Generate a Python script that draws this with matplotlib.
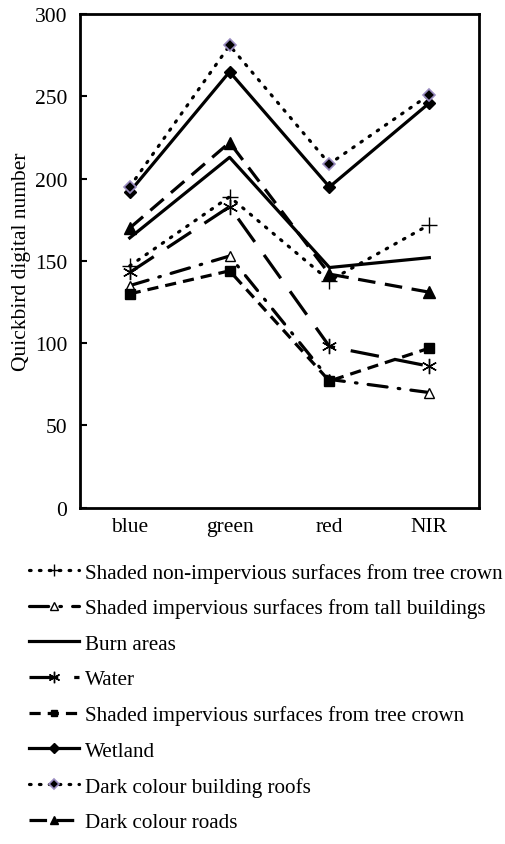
import numpy as np
import matplotlib.pyplot as plt

plt.rcParams['font.family'] = ['Liberation Serif', 'DejaVu Serif']

bands = ["blue", "green", "red", "NIR"]

# Quickbird digital numbers
shaded_nonimp_tree = [147, 189, 138, 172]
shaded_imp_tall = [135, 153, 78, 70]
burn_areas = [164, 213, 146, 152]
water = [143, 183, 98, 86]
shaded_imp_tree = [130, 144, 77, 97]
wetland = [192, 265, 195, 246]
dark_roofs = [195, 281, 209, 251]
dark_roads = [170, 222, 142, 131]

labels = ["Shaded non-impervious surfaces from tree crown",
          "Shaded impervious surfaces from tall buildings",
          "Burn areas",
          "Water",
          "Shaded impervious surfaces from tree crown",
          "Wetland",
          "Dark colour building roofs",
          "Dark colour roads"]

fs = 15.5

fig = plt.figure(figsize=(5.05, 8.45), dpi=100)
ax = fig.add_axes([0.158, 0.398, 0.791, 0.584])

x = np.arange(len(bands))
lw = 2.3

ax.plot(x, shaded_nonimp_tree, color="k", lw=lw, linestyle=(0, (0.5, 2.6)),
        dash_capstyle="round", marker="+", ms=11, mew=1.0, label=labels[0])
ax.plot(x, shaded_imp_tall, color="k", lw=lw, linestyle=(0, (6, 3.5, 0.5, 3.5)),
        dash_capstyle="round", marker="^", ms=7, mfc="white", mec="k", mew=1.0,
        label=labels[1])
ax.plot(x, burn_areas, color="k", lw=lw, linestyle="-", label=labels[2])
ax.plot(x, water, color="k", lw=lw, linestyle=(0, (9, 5)),
        marker=(6, 2, 0), ms=11, mew=1.0, label=labels[3])
ax.plot(x, shaded_imp_tree, color="k", lw=lw, linestyle=(0, (3.5, 2.2)),
        marker="s", ms=6.5, label=labels[4])
ax.plot(x, wetland, color="k", lw=lw, linestyle="-", marker="D", ms=6.5,
        label=labels[5])
ax.plot(x, dark_roofs, color="k", lw=lw, linestyle=(0, (0.5, 2.6)),
        dash_capstyle="round", marker="D", ms=6.5, mfc="black", mec="#9a8cc0",
        mew=1.2, label=labels[6])
ax.plot(x, dark_roads, color="k", lw=lw, linestyle=(0, (5.5, 3)),
        marker="^", ms=8, label=labels[7])

ax.set_xlim(-0.5, 3.5)
ax.set_ylim(0, 300)
ax.set_yticks(np.arange(0, 301, 50))
ax.set_xticks(x)
ax.set_xticklabels(bands)
ax.tick_params(axis="y", direction="in", length=5, width=1.5, labelsize=fs, pad=9)
ax.tick_params(axis="x", length=0, labelsize=fs, pad=7)
for s in ax.spines.values():
    s.set_linewidth(2)
ax.set_ylabel("Quickbird digital number", fontsize=fs, labelpad=3)

handles, labs = ax.get_legend_handles_labels()
fig.legend(handles, labs, loc="upper left", bbox_to_anchor=(0.057, 0.333),
           frameon=False, fontsize=15.2, handlelength=2.4, handletextpad=0.25,
           labelspacing=0.75, borderaxespad=0, borderpad=0, markerscale=0.75)

fig.savefig("out.png", dpi=100)
